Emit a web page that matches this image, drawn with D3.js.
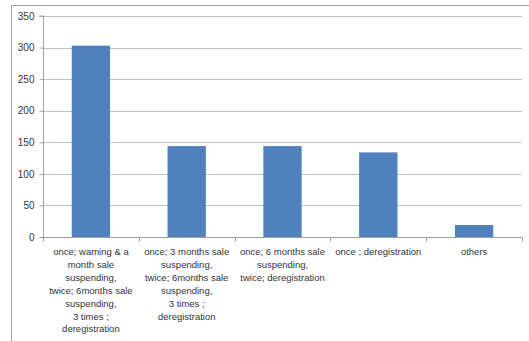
<!DOCTYPE html>
<html><head><meta charset="utf-8">
<script src="https://cdn.jsdelivr.net/npm/d3@7"></script>
<style>html,body{margin:0;padding:0;background:#fff;}svg{display:block;}</style>
</head><body>
<script>
const categories = [
  ["once; waming & a", "month sale", "suspending,", "twice; 6months sale", "suspending,", "3 times ;", "deregistration"],
  ["once; 3 months sale", "suspending,", "twice; 6months sale", "suspending,", "3 times ;", "deregistration"],
  ["once; 6 months sale", "suspending,", "twice; deregistration"],
  ["once ; deregistration"],
  ["others"]
];
const values = [303, 144, 144, 134, 19];
const yTicks = [0, 50, 100, 150, 200, 250, 300, 350];

(function () {
const W = 529, H = 341;
const svg = d3.select("body").append("svg").attr("width", W).attr("height", H);
const font = "'Liberation Sans', Arial, sans-serif";

// outer frame (top and left visible)
svg.append("line").attr("x1", 11.5).attr("x2", W).attr("y1", 5.5).attr("y2", 5.5).attr("stroke", "#a0a0a0");
svg.append("line").attr("x1", 11.5).attr("x2", 11.5).attr("y1", 5.5).attr("y2", H).attr("stroke", "#a0a0a0");

const mL = 43, mR = 522, mT = 16, mB = 237;
const x = d3.scaleBand().domain(d3.range(values.length)).range([mL, mR]).paddingInner(0.6).paddingOuter(0.3);
const xc = d3.scaleBand().domain(d3.range(values.length)).range([mL, mR]);
const y = d3.scaleLinear().domain([0, 350]).range([mB, mT]);

// gridlines
svg.append("g").selectAll("line").data(yTicks.filter(d => d > 0)).join("line")
  .attr("x1", mL).attr("x2", mR)
  .attr("y1", d => Math.round(y(d)) + 0.5).attr("y2", d => Math.round(y(d)) + 0.5)
  .attr("stroke", "#c0c0c0");

// y axis
const ya = svg.append("g").attr("transform", `translate(${mL + 0.5},0)`)
  .call(d3.axisLeft(y).tickValues(yTicks).tickSize(4).tickPadding(5));
ya.select(".domain").attr("stroke", "#a0a0a0").attr("d", `M-4,${y(350)}H0V${mB}`);
ya.selectAll(".tick line").attr("stroke", "#a0a0a0");
ya.selectAll("text").attr("font-family", font).attr("font-size", "10px").attr("fill", "#333");

// bars
svg.append("g").selectAll("rect").data(values).join("rect")
  .attr("x", (d, i) => x(i)).attr("width", x.bandwidth())
  .attr("y", d => y(d)).attr("height", d => mB - y(d))
  .attr("fill", "#4f81bd");

// x axis
const xa = svg.append("g").attr("transform", `translate(0,${mB + 0.5})`);
xa.append("line").attr("x1", mL).attr("x2", mR).attr("stroke", "#a0a0a0");
xa.selectAll(".tk").data(d3.range(values.length + 1)).join("line").attr("class", "tk")
  .attr("x1", i => Math.round(mL + i * xc.bandwidth()) + 0.5)
  .attr("x2", i => Math.round(mL + i * xc.bandwidth()) + 0.5)
  .attr("y1", 0).attr("y2", 4).attr("stroke", "#a0a0a0");

// category labels
const lbl = svg.append("g").selectAll("text").data(categories).join("text")
  .attr("font-family", font).attr("font-size", "9.5px").attr("fill", "#333")
  .attr("text-anchor", "middle")
  .attr("transform", (d, i) => `translate(${xc(i) + xc.bandwidth() / 2},${mB + 18})`);
lbl.selectAll("tspan").data(d => d).join("tspan")
  .attr("x", 0).attr("dy", (d, j) => j === 0 ? 0 : 12.9).text(d => d);
})();
</script>
</body></html>
